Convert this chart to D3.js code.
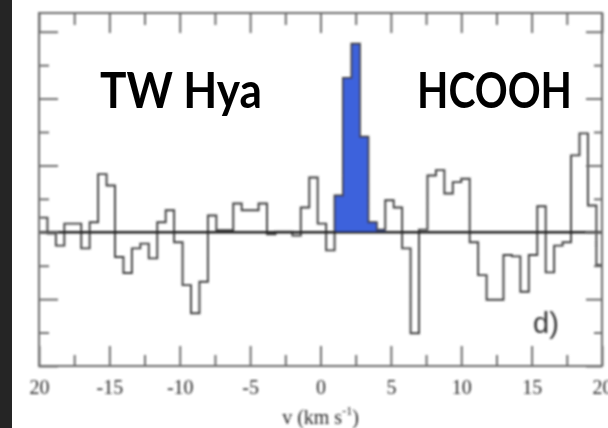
<!DOCTYPE html>
<html>
<head>
<meta charset="utf-8">
<script src="https://cdn.jsdelivr.net/npm/d3@7"></script>
<style>
  html, body { margin: 0; padding: 0; background: #fff; }
  svg { display: block; }
</style>
</head>
<body>
<svg id="chart" width="608" height="428"></svg>
<script>
// Channel centres of the spectrum (km/s)
const velocity = [
  -19.7, -19.1, -18.5, -17.9, -17.3, -16.7, -16.1, -15.5, -14.9, -14.3,
  -13.7, -13.1, -12.5, -11.9, -11.3, -10.7, -10.1, -9.5, -8.9, -8.3,
  -7.7, -7.1, -6.5, -5.9, -5.3, -4.7, -4.1, -3.5, -2.9, -2.3,
  -1.7, -1.1, -0.5, 0.1, 0.7, 1.3, 1.9, 2.5, 3.1, 3.7,
  4.3, 4.9, 5.5, 6.1, 6.7, 7.3, 7.9, 8.5, 9.1, 9.7,
  10.3, 10.9, 11.5, 12.1, 12.7, 13.3, 13.9, 14.5, 15.1, 15.7,
  16.3, 16.9, 17.5, 18.1, 18.7, 19.3, 19.9
];
// Line intensity per channel (arbitrary units)
const intensity = [
  0.22, -0.02, -0.20, 0.13, 0.13, -0.24, 0.15, 0.87, 0.70, -0.37,
  -0.61, -0.24, -0.17, -0.39, 0.15, 0.33, -0.15, -0.79, -1.21, -0.74,
  0.25, 0.03, 0.03, 0.43, 0.33, 0.33, 0.43, -0.03, 0.01, 0.01,
  -0.05, 0.37, 0.82, 0.13, -0.27, 0.55, 2.31, 2.82, 1.43, 0.15,
  0.04, 0.48, 0.37, -0.24, -1.51, 0.04, 0.85, 0.93, 0.58, 0.75,
  0.80, -0.15, -0.64, -1.01, -1.01, -0.34, -0.36, -0.89, -0.34, 0.39,
  -0.60, -0.20, -0.15, 1.15, 1.48, 0.40, -0.49
];
// Velocity range of the detected line (shaded)
const lineWindow = [1.0, 4.6];

const xMajorTicks = [-20, -15, -10, -5, 0, 5, 10, 15, 20];
const xTickLabels = ["20", "-15", "-10", "-5", "0", "5", "10", "15", "20"];
const xMinorTicks = [-17.5, -12.5, -7.5, -2.5, 2.5, 7.5, 12.5, 17.5];
const yMajorTicks = [-2, -1, 0, 1, 2, 3];
const yMinorTicks = [-1.5, -0.5, 0.5, 1.5, 2.5];

const sourceName = "TW Hya";
const moleculeName = "HCOOH";
const panelTag = "d)";

const svg = d3.select("#chart");
const W = 608, H = 428;
const plot = { left: 39, right: 602, top: 13, bottom: 366 };

svg.append("rect").attr("width", W).attr("height", H).attr("fill", "#fff");

const defs = svg.append("defs");
defs.append("filter").attr("id", "soft")
  .attr("x", "-5%").attr("y", "-5%").attr("width", "110%").attr("height", "110%")
  .append("feGaussianBlur").attr("stdDeviation", 0.8);
defs.append("clipPath").attr("id", "frameClip")
  .append("rect")
  .attr("x", plot.left).attr("y", plot.top)
  .attr("width", plot.right - plot.left).attr("height", plot.bottom - plot.top);

const x = d3.scaleLinear().domain([-20, 20]).range([plot.left, plot.right]);
const y = d3.scaleLinear().domain([-2, 3.28]).range([plot.bottom, plot.top]);

const g = svg.append("g").attr("filter", "url(#soft)");

// Step outline: each channel spans half a spacing either side of its centre
const half = (velocity[1] - velocity[0]) / 2;
const steps = velocity.map((v, i) => ({ v: v - half, t: intensity[i] }));
steps.push({ v: velocity[velocity.length - 1] + half, t: intensity[intensity.length - 1] });

const inWindow = steps.filter(d => d.v >= lineWindow[0] - 1e-6 && d.v <= lineWindow[1] + 1e-6);
const windowPts = inWindow.slice(0, -1).concat([{ v: lineWindow[1], t: inWindow[inWindow.length - 2].t }]);

const area = d3.area()
  .x(d => x(d.v)).y0(y(0)).y1(d => y(d.t))
  .curve(d3.curveStepAfter);

const data = g.append("g").attr("clip-path", "url(#frameClip)");
data.append("path")
  .datum(windowPts)
  .attr("d", area)
  .attr("fill", "#3d62dc");

const line = d3.line().x(d => x(d.v)).y(d => y(d.t)).curve(d3.curveStepAfter);
data.append("path")
  .datum(steps)
  .attr("d", line)
  .attr("fill", "none")
  .attr("stroke", "#3c3c3c")
  .attr("stroke-width", 1.9);

// Zero baseline
g.append("line")
  .attr("x1", plot.left).attr("x2", plot.right)
  .attr("y1", y(0)).attr("y2", y(0))
  .attr("stroke", "#1e1e1e").attr("stroke-width", 2.4);

// Axes: ticks point inwards on all four sides
function styleAxis(sel) {
  sel.select(".domain").remove();
  sel.selectAll(".tick line").attr("stroke", "#666").attr("stroke-width", 1.9);
}
g.append("g").attr("transform", `translate(0,${plot.bottom})`)
  .call(d3.axisBottom(x).tickValues(xMinorTicks).tickSize(-11).tickFormat(""))
  .call(styleAxis);
const bottomAxis = g.append("g").attr("transform", `translate(0,${plot.bottom})`)
  .call(d3.axisBottom(x).tickValues(xMajorTicks).tickSize(-20).tickPadding(14)
    .tickFormat((d, i) => xTickLabels[i]))
  .call(styleAxis);
bottomAxis.selectAll(".tick text")
  .attr("font-family", "'Liberation Serif', 'Times New Roman', serif")
  .attr("font-size", 20)
  .attr("fill", "#2a2a2a");

g.append("g").attr("transform", `translate(0,${plot.top})`)
  .call(d3.axisTop(x).tickValues(xMinorTicks).tickSize(-12).tickFormat(""))
  .call(styleAxis);
g.append("g").attr("transform", `translate(0,${plot.top})`)
  .call(d3.axisTop(x).tickValues(xMajorTicks).tickSize(-20).tickFormat(""))
  .call(styleAxis);

g.append("g").attr("transform", `translate(${plot.left},0)`)
  .call(d3.axisLeft(y).tickValues(yMinorTicks).tickSize(-10).tickFormat(""))
  .call(styleAxis);
g.append("g").attr("transform", `translate(${plot.left},0)`)
  .call(d3.axisLeft(y).tickValues(yMajorTicks).tickSize(-19).tickFormat(""))
  .call(styleAxis);
g.append("g").attr("transform", `translate(${plot.right},0)`)
  .call(d3.axisRight(y).tickValues(yMinorTicks).tickSize(-8).tickFormat(""))
  .call(styleAxis);
g.append("g").attr("transform", `translate(${plot.right},0)`)
  .call(d3.axisRight(y).tickValues(yMajorTicks).tickSize(-16).tickFormat(""))
  .call(styleAxis);

// Frame
g.append("rect")
  .attr("x", plot.left).attr("y", plot.top)
  .attr("width", plot.right - plot.left).attr("height", plot.bottom - plot.top)
  .attr("fill", "none").attr("stroke", "#6a6a6a").attr("stroke-width", 2);

// Axis title
const title = g.append("text")
  .attr("x", x(0)).attr("y", 424)
  .attr("text-anchor", "middle")
  .attr("font-family", "'Liberation Serif', 'Times New Roman', serif")
  .attr("font-size", 20)
  .attr("fill", "#2a2a2a");
title.append("tspan").text("v (km s");
title.append("tspan").attr("font-size", 12).attr("dy", -9).text("-1");
title.append("tspan").attr("dy", 9).text(")");

// Panel tag
g.append("text")
  .attr("x", 533).attr("y", 333)
  .attr("font-family", "'Liberation Sans', Arial, sans-serif")
  .attr("font-size", 29)
  .attr("fill", "#333")
  .text(panelTag);

// Source and molecule names
const labelFont = "Lato, 'Open Sans', sans-serif";
svg.append("text")
  .attr("x", 100).attr("y", 108)
  .attr("font-family", labelFont).attr("font-weight", 700)
  .attr("font-size", 50).attr("fill", "#000")
  .attr("textLength", 162).attr("lengthAdjust", "spacingAndGlyphs")
  .text(sourceName);
svg.append("text")
  .attr("x", 417).attr("y", 108)
  .attr("font-family", labelFont).attr("font-weight", 700)
  .attr("font-size", 50).attr("fill", "#000")
  .attr("textLength", 155).attr("lengthAdjust", "spacingAndGlyphs")
  .text(moleculeName);

// Dark strip along the left edge
svg.append("rect")
  .attr("x", 0).attr("y", 0).attr("width", 12).attr("height", H)
  .attr("fill", "#252525");
</script>
</body>
</html>
